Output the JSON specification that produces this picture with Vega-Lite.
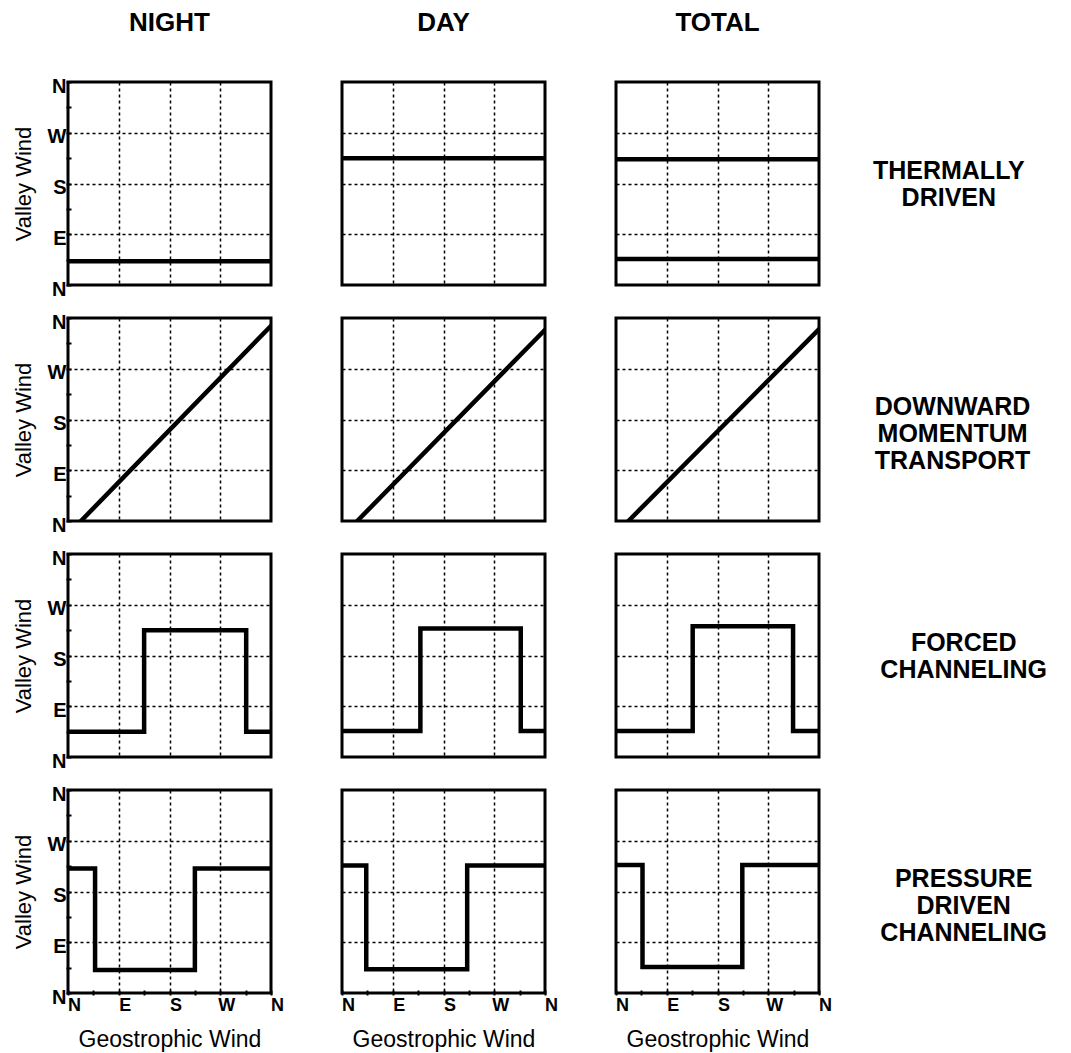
{
  "$schema": "https://vega.github.io/schema/vega-lite/v6.json",
  "padding": {"left": 12, "top": 10, "right": 5, "bottom": 2},
  "data": {"values": [
    {"m": "THERMALLY DRIVEN", "t": "NIGHT", "s": "a", "i": 1, "x": 0, "y": 42},
    {"m": "THERMALLY DRIVEN", "t": "NIGHT", "s": "a", "i": 2, "x": 360, "y": 42},
    {"m": "THERMALLY DRIVEN", "t": "DAY", "s": "a", "i": 1, "x": 0, "y": 225},
    {"m": "THERMALLY DRIVEN", "t": "DAY", "s": "a", "i": 2, "x": 360, "y": 225},
    {"m": "THERMALLY DRIVEN", "t": "TOTAL", "s": "a", "i": 1, "x": 0, "y": 223},
    {"m": "THERMALLY DRIVEN", "t": "TOTAL", "s": "a", "i": 2, "x": 360, "y": 223},
    {"m": "THERMALLY DRIVEN", "t": "TOTAL", "s": "b", "i": 1, "x": 0, "y": 46},
    {"m": "THERMALLY DRIVEN", "t": "TOTAL", "s": "b", "i": 2, "x": 360, "y": 46},

    {"m": "DOWNWARD MOMENTUM TRANSPORT", "t": "NIGHT", "s": "a", "i": 1, "x": 23, "y": 0},
    {"m": "DOWNWARD MOMENTUM TRANSPORT", "t": "NIGHT", "s": "a", "i": 2, "x": 360, "y": 346},
    {"m": "DOWNWARD MOMENTUM TRANSPORT", "t": "DAY", "s": "a", "i": 1, "x": 27, "y": 0},
    {"m": "DOWNWARD MOMENTUM TRANSPORT", "t": "DAY", "s": "a", "i": 2, "x": 360, "y": 339},
    {"m": "DOWNWARD MOMENTUM TRANSPORT", "t": "TOTAL", "s": "a", "i": 1, "x": 22, "y": 0},
    {"m": "DOWNWARD MOMENTUM TRANSPORT", "t": "TOTAL", "s": "a", "i": 2, "x": 360, "y": 340},

    {"m": "FORCED CHANNELING", "t": "NIGHT", "s": "a", "i": 1, "x": 0, "y": 45},
    {"m": "FORCED CHANNELING", "t": "NIGHT", "s": "a", "i": 2, "x": 135, "y": 45},
    {"m": "FORCED CHANNELING", "t": "NIGHT", "s": "a", "i": 3, "x": 135, "y": 225},
    {"m": "FORCED CHANNELING", "t": "NIGHT", "s": "a", "i": 4, "x": 316, "y": 225},
    {"m": "FORCED CHANNELING", "t": "NIGHT", "s": "a", "i": 5, "x": 316, "y": 45},
    {"m": "FORCED CHANNELING", "t": "NIGHT", "s": "a", "i": 6, "x": 360, "y": 45},
    {"m": "FORCED CHANNELING", "t": "DAY", "s": "a", "i": 1, "x": 0, "y": 46},
    {"m": "FORCED CHANNELING", "t": "DAY", "s": "a", "i": 2, "x": 139, "y": 46},
    {"m": "FORCED CHANNELING", "t": "DAY", "s": "a", "i": 3, "x": 139, "y": 228},
    {"m": "FORCED CHANNELING", "t": "DAY", "s": "a", "i": 4, "x": 317, "y": 228},
    {"m": "FORCED CHANNELING", "t": "DAY", "s": "a", "i": 5, "x": 317, "y": 46},
    {"m": "FORCED CHANNELING", "t": "DAY", "s": "a", "i": 6, "x": 360, "y": 46},
    {"m": "FORCED CHANNELING", "t": "TOTAL", "s": "a", "i": 1, "x": 0, "y": 46},
    {"m": "FORCED CHANNELING", "t": "TOTAL", "s": "a", "i": 2, "x": 136, "y": 46},
    {"m": "FORCED CHANNELING", "t": "TOTAL", "s": "a", "i": 3, "x": 136, "y": 232},
    {"m": "FORCED CHANNELING", "t": "TOTAL", "s": "a", "i": 4, "x": 314, "y": 232},
    {"m": "FORCED CHANNELING", "t": "TOTAL", "s": "a", "i": 5, "x": 314, "y": 46},
    {"m": "FORCED CHANNELING", "t": "TOTAL", "s": "a", "i": 6, "x": 360, "y": 46},

    {"m": "PRESSURE DRIVEN CHANNELING", "t": "NIGHT", "s": "a", "i": 1, "x": 0, "y": 221},
    {"m": "PRESSURE DRIVEN CHANNELING", "t": "NIGHT", "s": "a", "i": 2, "x": 48, "y": 221},
    {"m": "PRESSURE DRIVEN CHANNELING", "t": "NIGHT", "s": "a", "i": 3, "x": 48, "y": 41},
    {"m": "PRESSURE DRIVEN CHANNELING", "t": "NIGHT", "s": "a", "i": 4, "x": 225, "y": 41},
    {"m": "PRESSURE DRIVEN CHANNELING", "t": "NIGHT", "s": "a", "i": 5, "x": 225, "y": 221},
    {"m": "PRESSURE DRIVEN CHANNELING", "t": "NIGHT", "s": "a", "i": 6, "x": 360, "y": 221},
    {"m": "PRESSURE DRIVEN CHANNELING", "t": "DAY", "s": "a", "i": 1, "x": 0, "y": 226},
    {"m": "PRESSURE DRIVEN CHANNELING", "t": "DAY", "s": "a", "i": 2, "x": 43, "y": 226},
    {"m": "PRESSURE DRIVEN CHANNELING", "t": "DAY", "s": "a", "i": 3, "x": 43, "y": 42},
    {"m": "PRESSURE DRIVEN CHANNELING", "t": "DAY", "s": "a", "i": 4, "x": 222, "y": 42},
    {"m": "PRESSURE DRIVEN CHANNELING", "t": "DAY", "s": "a", "i": 5, "x": 222, "y": 226},
    {"m": "PRESSURE DRIVEN CHANNELING", "t": "DAY", "s": "a", "i": 6, "x": 360, "y": 226},
    {"m": "PRESSURE DRIVEN CHANNELING", "t": "TOTAL", "s": "a", "i": 1, "x": 0, "y": 227},
    {"m": "PRESSURE DRIVEN CHANNELING", "t": "TOTAL", "s": "a", "i": 2, "x": 47, "y": 227},
    {"m": "PRESSURE DRIVEN CHANNELING", "t": "TOTAL", "s": "a", "i": 3, "x": 47, "y": 46},
    {"m": "PRESSURE DRIVEN CHANNELING", "t": "TOTAL", "s": "a", "i": 4, "x": 224, "y": 46},
    {"m": "PRESSURE DRIVEN CHANNELING", "t": "TOTAL", "s": "a", "i": 5, "x": 224, "y": 227},
    {"m": "PRESSURE DRIVEN CHANNELING", "t": "TOTAL", "s": "a", "i": 6, "x": 360, "y": 227}
  ]},
  "facet": {
    "row": {
      "field": "m", "type": "nominal",
      "sort": ["THERMALLY DRIVEN", "DOWNWARD MOMENTUM TRANSPORT", "FORCED CHANNELING", "PRESSURE DRIVEN CHANNELING"],
      "header": {
        "title": null, "labelOrient": "right", "labelAngle": 0, "labelAlign": "center",
        "labelBaseline": "bottom", "labelPadding": -24, "labelFontSize": 25,
        "labelFontWeight": "bold", "labelFont": "Liberation Sans", "labelLineHeight": 27,
        "labelColor": "black", "labelExpr": "split(datum.label, ' ')"
      }
    },
    "column": {
      "field": "t", "type": "nominal",
      "sort": ["NIGHT", "DAY", "TOTAL"],
      "header": {
        "title": null, "labelOrient": "top", "labelFontSize": 26, "labelFontWeight": "bold",
        "labelFont": "Liberation Sans", "labelPadding": 44, "labelColor": "black"
      }
    }
  },
  "spacing": {"row": 29, "column": 67},
  "spec": {
    "width": 203,
    "height": 203,
    "mark": {"type": "line", "color": "black", "strokeWidth": 4.5, "clip": true, "strokeJoin": "miter", "strokeCap": "square"},
    "encoding": {
      "x": {
        "field": "x", "type": "quantitative",
        "scale": {"domain": [0, 360], "nice": false, "zero": false},
        "axis": {
          "title": "Geostrophic Wind",
          "values": [0, 45, 90, 135, 180, 225, 270, 315, 360],
          "labelExpr": "datum.value % 90 == 0 ? ['N','E','S','W','N'][datum.value / 90] : ''",
          "labelFontSize": 18, "labelFontWeight": "bold", "labelOffset": 6, "labelPadding": 6,
          "titleFontSize": 23, "titleFontWeight": "normal", "titlePadding": 14
        }
      },
      "y": {
        "field": "y", "type": "quantitative",
        "scale": {"domain": [0, 360], "nice": false, "zero": false},
        "axis": {
          "title": "Valley Wind",
          "values": [0, 45, 90, 135, 180, 225, 270, 315, 360],
          "labelExpr": "datum.value % 90 == 0 ? ['N','E','S','W','N'][datum.value / 90] : ''",
          "labelFontSize": 20, "labelFontWeight": "bold", "labelOffset": 4, "labelPadding": 5,
          "titleFontSize": 22, "titleFontWeight": "normal", "titlePadding": 12
        }
      },
      "detail": {"field": "s", "type": "nominal"},
      "order": {"field": "i", "type": "quantitative"}
    }
  },
  "config": {
    "font": "Liberation Sans",
    "view": {"stroke": "black", "strokeWidth": 3},
    "axis": {
      "domain": false,
      "grid": true,
      "gridColor": "black",
      "gridDash": [3, 3],
      "gridWidth": 1.5,
      "gridOpacity": {"condition": {"test": "datum.value % 90 != 0 || datum.value == 0 || datum.value == 360", "value": 0}, "value": 1},
      "ticks": true,
      "tickColor": "black",
      "tickSize": -5,
      "tickWidth": 2,
      "labelColor": "black",
      "titleColor": "black",
      "labelFont": "Liberation Sans",
      "titleFont": "Liberation Sans",
      "labelOverlap": false,
      "labelFlush": false,
      "labelBound": false
    }
  }
}
